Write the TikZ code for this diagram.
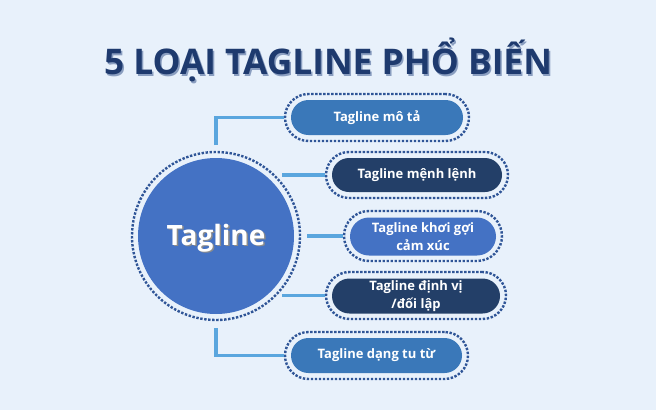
\documentclass[tikz,border=0pt]{standalone}
\usepackage{fontspec}
\setmainfont{Open Sans}
\definecolor{bg}{HTML}{E8F1FB}
\definecolor{titlec}{HTML}{1E3A6E}
\definecolor{titleshadow}{HTML}{8A9EC0}
\definecolor{midblue}{HTML}{3A78B9}
\definecolor{circblue}{HTML}{4472C4}
\definecolor{navy}{HTML}{233F68}
\definecolor{linkc}{HTML}{5AA6DE}
\definecolor{ringc}{HTML}{2F5597}
\tikzset{
  ringbox/.style={draw=ringc, line width=2.4pt, dash pattern=on 2.4pt off 1.6pt, rounded corners=#1, inner sep=0pt},
  tagbox/.style={fill=#1, text=white, font=\bfseries\fontsize{13}{15}\selectfont, align=center, inner sep=0pt},
  link/.style={draw=linkc, line width=3.2pt},
}
\begin{document}
\begin{tikzpicture}[x=1pt,y=-1pt]
\useasboundingbox (0,0) rectangle (656,410);
\fill[bg] (0,0) rectangle (656,410);
% title
\node[text=titleshadow, font=\bfseries\fontsize{35.3}{38}\selectfont] (titlesh) at (329.5,61.5) {5 LOẠI TAGLINE PHỔ BIẾN};
\node[text=titlec, font=\bfseries\fontsize{35.3}{38}\selectfont] (title) at (328,60) {5 LOẠI TAGLINE PHỔ BIẾN};
% central circle
\node[circle, draw=ringc, line width=2.4pt, dash pattern=on 2.4pt off 1.6pt, minimum size=168pt, inner sep=0pt] (circring) at (216,236) {};
\node[circle, fill=circblue, minimum size=156pt, inner sep=0pt] (circ) at (216,236) {};
\node[text=black!45, font=\bfseries\fontsize{28}{30}\selectfont] (tagsh) at (217.5,239.5) {Tagline};
\node[text=white, font=\bfseries\fontsize{28}{30}\selectfont] (tag) at (216,238) {Tagline};
% boxes
\node[ringbox=23.5pt, minimum width=184pt, minimum height=47pt] (r1) at (377,117.5) {};
\node[tagbox=midblue, rounded corners=17.5pt, minimum width=172pt, minimum height=35pt] (b1) at (377,117.5) {Tagline mô tả};
\node[ringbox=23pt, minimum width=182pt, minimum height=46pt] (r2) at (417,175) {};
\node[tagbox=navy, rounded corners=17pt, minimum width=170pt, minimum height=34pt] (b2) at (417,175) {Tagline mệnh lệnh};
\node[ringbox=25pt, minimum width=158pt, minimum height=50pt] (r3) at (423,236) {};
\node[tagbox=circblue, rounded corners=19pt, minimum width=146pt, minimum height=38pt] (b3) at (423,236.5) {Tagline khơi gợi\\[3pt]cảm xúc};
\node[ringbox=23.5pt, minimum width=180pt, minimum height=47pt] (r4) at (416,295.5) {};
\node[tagbox=navy, rounded corners=17.5pt, minimum width=168pt, minimum height=35pt] (b4) at (416,296) {Tagline định vị\\[3pt]/đối lập};
\node[ringbox=23.5pt, minimum width=183pt, minimum height=47pt] (r5) at (376.5,355.5) {};
\node[tagbox=midblue, rounded corners=17.5pt, minimum width=171pt, minimum height=35pt] (b5) at (376.5,355.5) {Tagline dạng tu từ};
% connectors
\coordinate (c1) at (216,145);
\coordinate (c2) at (282,175);
\coordinate (c3) at (307,236);
\coordinate (c4) at (282,295.5);
\coordinate (c5) at (216,328);
\draw[link] (c1) |- (r1.west);
\draw[link] (c2) -- (r2.west);
\draw[link] (c3) -- (r3.west);
\draw[link] (c4) -- (r4.west);
\draw[link] (c5) |- (r5.west);
\end{tikzpicture}
\end{document}
